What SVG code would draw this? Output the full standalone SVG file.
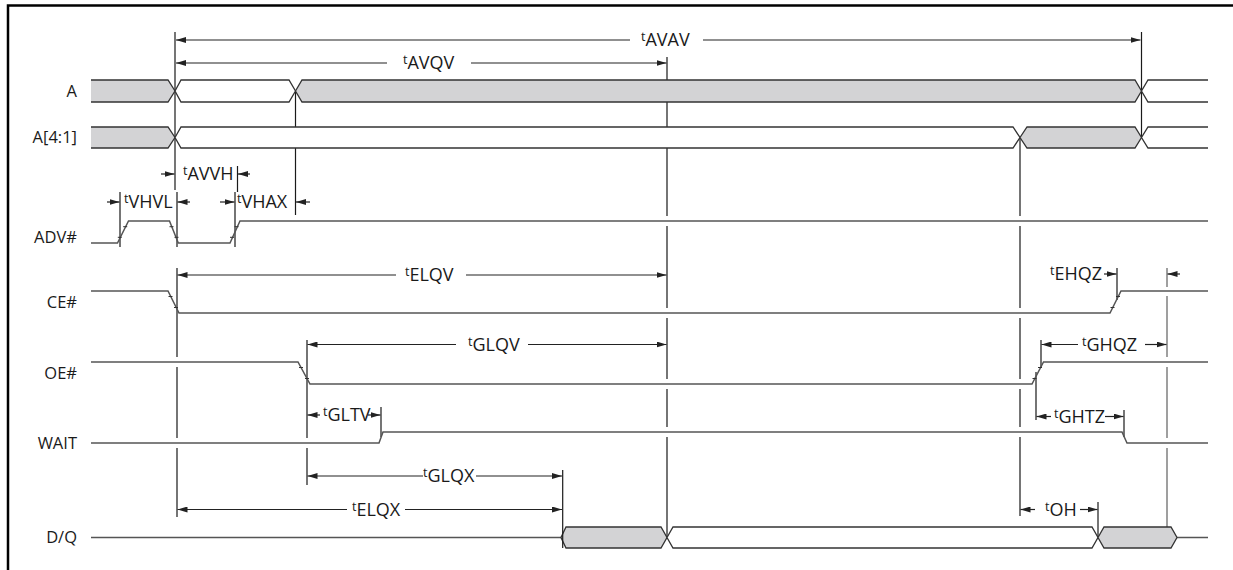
<svg xmlns="http://www.w3.org/2000/svg" width="1233" height="570" viewBox="0 0 1233 570">
<style>
.frame{fill:none;stroke:#000;stroke-width:2.5}
.sig{fill:none;stroke:#555;stroke-width:1.5}
.bs{fill:none;stroke:#333;stroke-width:1.3}
.g{fill:#d3d3d5;stroke:none}
.w{fill:#fff;stroke:none}
.v{stroke:#1a1a1a;stroke-width:1.2;fill:none}
.vg{stroke:#888;stroke-width:1.6;fill:none}
.arr{stroke:#222;stroke-width:1.2;fill:none;marker-end:url(#ah)}
.tk{stroke:#333;stroke-width:1}
.lbl{font-family:"Open Sans","Liberation Sans",sans-serif;font-size:16.5px;fill:#1a1a1a;text-anchor:end}
.tl{font-family:"Open Sans","Liberation Sans",sans-serif;font-size:18px;fill:#1a1a1a}
.ts{font-size:12.5px}
</style>
<defs>
<marker id="ah" markerUnits="userSpaceOnUse" markerWidth="11" markerHeight="6" refX="10" refY="3" orient="auto">
<path d="M0,0 L10,3 L0,6 Z" fill="#222"/>
</marker>
</defs>
<rect width="1233" height="570" fill="#fff"/>
<path class="frame" d="M8,570 V5.5 H1233"/>

<g id="connectors">
<path class="v" d="M175,32 V190"/>
<path class="v" d="M177,268 V357 M177,367 V438 M177,448 V517"/>
<path class="v" d="M120,192 V247 M177,192 V247"/>
<path class="v" d="M237.5,166 V192 M235,192 V247"/>
<path class="v" d="M295.5,91 V215"/>
<path class="v" d="M307,340 V438 M307,448 V485"/>
<path class="v" d="M381,407 V437"/>
<path class="v" d="M667,57 V216 M667,226 V308 M667,318 V379 M667,389 V427 M667,437 V537.5"/>
<path class="v" d="M1020,137.5 V216 M1020,226 V308 M1020,318 V379 M1020,389 V427 M1020,437 V516"/>
<path class="v" d="M1141.5,32 V137.5"/>
<path class="v" d="M1041,340 V367 M1036,372 V420"/>
<path class="v" d="M1124,410 V437"/>
<path class="v" d="M1117,268 V300"/>
<path class="v" d="M1098,502 V537.5"/>
<path class="vg" d="M1167,268 V287 M1167,296 V357 M1167,367 V438 M1167,448 V527"/>
</g>

<g id="sig-A">
<text class="lbl" x="77" y="97">A</text>
<path class="g" d="M91,80 H168 L175,91 L168,102 H91 Z"/>
<path class="bs" d="M91,80 H168 L175,91 L168,102 H91"/>
<path class="w" d="M175,91 L181,80 H289 L295.5,91 L289,102 H181 Z"/>
<path class="bs" d="M175,91 L181,80 H289 L295.5,91 L289,102 H181 Z"/>
<path class="g" d="M295.5,91 L302,80 H1135 L1141.5,91 L1135,102 H302 Z"/>
<path class="bs" d="M295.5,91 L302,80 H1135 L1141.5,91 L1135,102 H302 Z"/>
<path class="w" d="M1208,80 H1148 L1141.5,91 L1148,102 H1208 Z"/>
<path class="bs" d="M1208,80 H1148 L1141.5,91 L1148,102 H1208"/>
</g>

<g id="sig-A41">
<text class="lbl" x="77" y="143">A[4:1]</text>
<path class="g" d="M91,127 H168 L175,137.5 L168,148 H91 Z"/>
<path class="bs" d="M91,127 H168 L175,137.5 L168,148 H91"/>
<path class="w" d="M175,137.5 L181,127 H1013 L1020,137.5 L1013,148 H181 Z"/>
<path class="bs" d="M175,137.5 L181,127 H1013 L1020,137.5 L1013,148 H181 Z"/>
<path class="g" d="M1020,137.5 L1027,127 H1135 L1141.5,137.5 L1135,148 H1027 Z"/>
<path class="bs" d="M1020,137.5 L1027,127 H1135 L1141.5,137.5 L1135,148 H1027 Z"/>
<path class="w" d="M1208,127 H1148 L1141.5,137.5 L1148,148 H1208 Z"/>
<path class="bs" d="M1208,127 H1148 L1141.5,137.5 L1148,148 H1208"/>
</g>

<g id="sig-ADV">
<text class="lbl" x="77" y="243">ADV#</text>
<path class="sig" d="M91,243 H117.5 L128.5,221 H169.5 L178.3,243 H230 L240,221 H1208"/>
<path class="tk" d="M117.8,237.3 h4 M123.2,226.7 h4 M169.5,226.7 h4 M174.5,237.3 h4 M230,237.3 h4 M234.5,226.7 h4"/>
</g>

<g id="sig-CE">
<text class="lbl" x="77" y="308">CE#</text>
<path class="sig" d="M91,291 H168 L179,313 H1110 L1121,291 H1208"/>
<path class="tk" d="M168.5,296.5 h4 M174,307.5 h4 M1110.5,307.5 h4 M1116,296.5 h4"/>
</g>

<g id="sig-OE">
<text class="lbl" x="77" y="379">OE#</text>
<path class="sig" d="M91,362 H298 L310,384 H1032 L1043.5,362 H1208"/>
<path class="tk" d="M299,367.5 h4 M305,378.5 h4 M1032.5,378.5 h4 M1038,367.5 h4"/>
</g>

<g id="sig-WAIT">
<text class="lbl" x="77" y="449">WAIT</text>
<path class="sig" d="M91,443 H379 L383,432 H1122 L1127,443 H1208"/>
</g>

<g id="sig-DQ">
<text class="lbl" x="77" y="543">D/Q</text>
<path class="sig" d="M91,537.5 H561 M1177,537.5 H1208"/>
<path class="g" d="M561,537.5 L566,527 H661 L667,537.5 L661,548 H566 Z"/>
<path class="bs" d="M561,537.5 L566,527 H661 L667,537.5 L661,548 H566 Z"/>
<path class="w" d="M667,537.5 L673,527 H1092 L1098,537.5 L1092,548 H673 Z"/>
<path class="bs" d="M667,537.5 L673,527 H1092 L1098,537.5 L1092,548 H673 Z"/>
<path class="g" d="M1098,537.5 L1104,527 H1171 L1177,537.5 L1171,548 H1104 Z"/>
<path class="bs" d="M1098,537.5 L1104,527 H1171 L1177,537.5 L1171,548 H1104 Z"/>
<path class="v" d="M562.7,470 V548"/>
</g>

<g id="timings">
<path class="arr" d="M630,40 H176"/><path class="arr" d="M703,40 H1140.5"/>
<text class="tl" x="641" y="46"><tspan class="ts" dy="-5">t</tspan><tspan dy="5">AVAV</tspan></text>
<path class="arr" d="M387,63 H176"/><path class="arr" d="M471,63 H666.5"/>
<text class="tl" x="403" y="69"><tspan class="ts" dy="-5">t</tspan><tspan dy="5">AVQV</tspan></text>
<path class="arr" d="M161,174 H174.5"/><path class="arr" d="M250,174 H238"/>
<text class="tl" x="183" y="180"><tspan class="ts" dy="-5">t</tspan><tspan dy="5">AVVH</tspan></text>
<path class="arr" d="M107,202 H119.5"/><path class="arr" d="M190,202 H177.5"/>
<text class="tl" x="124" y="208"><tspan class="ts" dy="-5">t</tspan><tspan dy="5">VHVL</tspan></text>
<path class="arr" d="M220,202 H234.5"/><path class="arr" d="M310,202 H296"/>
<text class="tl" x="237" y="208"><tspan class="ts" dy="-5">t</tspan><tspan dy="5">VHAX</tspan></text>
<path class="arr" d="M396,275 H177.5"/><path class="arr" d="M466,275 H666.5"/>
<text class="tl" x="405" y="281"><tspan class="ts" dy="-5">t</tspan><tspan dy="5">ELQV</tspan></text>
<path class="arr" d="M1104,274 H1116.5"/><path class="arr" d="M1180,274 H1167.5"/>
<text class="tl" x="1050" y="280"><tspan class="ts" dy="-5">t</tspan><tspan dy="5">EHQZ</tspan></text>
<path class="arr" d="M456,344.5 H307.5"/><path class="arr" d="M528,344.5 H666.5"/>
<text class="tl" x="468" y="350.5"><tspan class="ts" dy="-5">t</tspan><tspan dy="5">GLQV</tspan></text>
<path class="arr" d="M1078,344.5 H1041.5"/><path class="arr" d="M1145,344.5 H1166.5"/>
<text class="tl" x="1082" y="350.5"><tspan class="ts" dy="-5">t</tspan><tspan dy="5">GHQZ</tspan></text>
<path class="arr" d="M320,415 H307.5"/><path class="arr" d="M368,415 H380.5"/>
<text class="tl" x="323" y="421"><tspan class="ts" dy="-5">t</tspan><tspan dy="5">GLTV</tspan></text>
<path class="arr" d="M1051,416.5 H1036.5"/><path class="arr" d="M1105,416.5 H1123.5"/>
<text class="tl" x="1054" y="422.5"><tspan class="ts" dy="-5">t</tspan><tspan dy="5">GHTZ</tspan></text>
<path class="arr" d="M423,476 H307.5"/><path class="arr" d="M476,476 H562"/>
<text class="tl" x="423" y="482"><tspan class="ts" dy="-5">t</tspan><tspan dy="5">GLQX</tspan></text>
<path class="arr" d="M347,509.5 H177.5"/><path class="arr" d="M405,509.5 H562"/>
<text class="tl" x="352" y="515.5"><tspan class="ts" dy="-5">t</tspan><tspan dy="5">ELQX</tspan></text>
<path class="arr" d="M1035,509.5 H1020.5"/><path class="arr" d="M1080,509.5 H1097.5"/>
<text class="tl" x="1045" y="515.5"><tspan class="ts" dy="-5">t</tspan><tspan dy="5">OH</tspan></text>
</g>
</svg>
